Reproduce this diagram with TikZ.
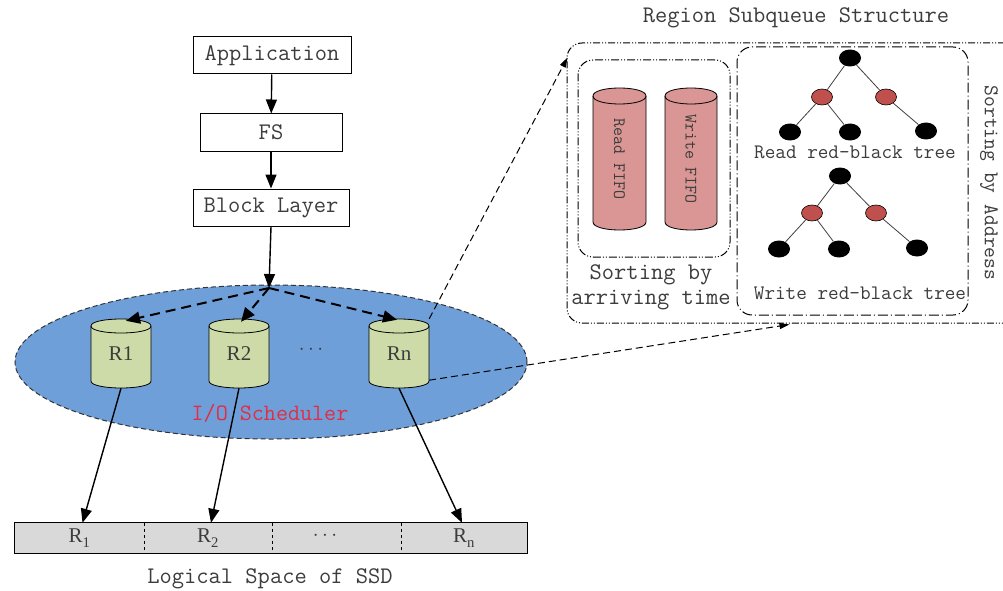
\documentclass[tikz,border=0pt]{standalone}
\usepackage{fontspec}
\setmainfont{Liberation Serif}
\newcommand\mono{\ttfamily}
\usetikzlibrary{shapes.geometric,arrows.meta,calc}
\definecolor{schedblue}{RGB}{111,159,216}
\definecolor{cylgreen}{RGB}{205,219,168}
\definecolor{fifopink}{RGB}{217,150,148}
\definecolor{rbredc}{RGB}{192,80,77}
\definecolor{bargray}{RGB}{217,217,217}
\definecolor{txtgray}{RGB}{60,60,60}
\definecolor{schedred}{RGB}{225,45,70}
% cylinder: name, xc, ytop, ybottom, half width, cap half height, fill, text, node options
\newcommand\cylnode[9]{%
  \draw[fill=#7, line width=0.8pt] (#2-#5,#3+#6) -- (#2-#5,#4-#6)
    .. controls (#2-#5,#4-#6+1.333*#6) and (#2+#5,#4-#6+1.333*#6) .. (#2+#5,#4-#6)
    -- (#2+#5,#3+#6)
    .. controls (#2+#5,#3+#6-1.333*#6) and (#2-#5,#3+#6-1.333*#6) .. cycle;
  \draw[line width=0.8pt] (#2-#5,#3+#6)
    .. controls (#2-#5,#3+#6+1.333*#6) and (#2+#5,#3+#6+1.333*#6) .. (#2+#5,#3+#6);
  \node[inner sep=0pt, minimum width={2*#5}, minimum height={#4-#3}, #9] (#1) at (#2,{(#3+#4)/2}) {#8};
}
\begin{document}
\begin{tikzpicture}[x=1pt,y=-1pt,
  every node/.style={text=txtgray},
  layerbox/.style={draw=black, line width=1pt, fill=white, inner sep=0pt, minimum height=37, font=\mono\fontsize{23.8}{26}\selectfont},
  flow/.style={-{Triangle[length=14pt,width=11pt]}, line width=1.4pt, draw=black},
  dflow/.style={-{Triangle[length=14pt,width=12pt]}, line width=2pt, dash pattern=on 10pt off 6pt, draw=black},
  zoomarrow/.style={-{Triangle[length=10pt,width=6pt]}, line width=1pt, dash pattern=on 7pt off 4pt, draw=black},
  blacknode/.style={ellipse, fill=black, minimum width=22, minimum height=17, inner sep=0pt},
  rednode/.style={ellipse, draw=black, line width=0.6pt, fill=rbredc, minimum width=21, minimum height=16, inner sep=0pt},
  treeedge/.style={line width=0.8pt, draw=black!75},
  monolbl/.style={font=\mono\fontsize{23.8}{26}\selectfont},
  smallmono/.style={font=\mono\fontsize{20.6}{22}\selectfont},
  cell/.style={fill=bargray, inner sep=0pt, minimum height=30, font=\fontsize{21}{22}\selectfont},
  roundbox/.style={draw=black, line width=1pt, rounded corners=15pt, inner sep=0pt},
]
\clip (0,0) rectangle (1003,591);
\fill[white] (0,0) rectangle (1003,591);

% layer boxes
\node[layerbox, minimum width=158] (app) at (272,55.5) {Application};
\node[layerbox, minimum width=142] (fs) at (271,132.5) {FS};
\node[layerbox, minimum width=156] (blk) at (271,207.5) {Block Layer};

% scheduler ellipse
\node[ellipse, draw=black!80, fill=schedblue, line width=1pt, dash pattern=on 5pt off 3pt,
      minimum width=512, minimum height=154, inner sep=0pt] (sched) at (271,362) {};
\node[text=schedred, font=\mono\fontsize{23.4}{25}\selectfont] (schedlbl) at (270,413) {I/O Scheduler};

% region cylinders
\cylnode{r1}{121}{319}{388}{30}{7}{cylgreen}{R1}{font=\fontsize{21}{22}\selectfont}
\cylnode{r2}{239}{319}{388}{30}{7}{cylgreen}{R2}{font=\fontsize{21}{22}\selectfont}
\cylnode{rn}{399}{319}{388}{30}{7}{cylgreen}{Rn}{font=\fontsize{21}{22}\selectfont}
\node[font=\fontsize{20}{22}\selectfont] (dots1) at (311,350) {$\cdots$};

% flow arrows
\coordinate (hub) at (269,288);
\draw[flow] (app) -- (fs);
\draw[flow] (fs) -- (blk);
\draw[flow] (blk.south) -- (hub);
\draw[dflow] (hub) -- ($(r1.north)+(5,2)$);
\draw[dflow] (hub) -- ($(r2.north)+(2,3)$);
\draw[dflow] (hub) -- ($(rn.north)+(-2,1)$);

% logical space bar
\node[cell, minimum width=129] (b1) at (79.5,538) {R\textsubscript{\raisebox{-2pt}{1}}};
\node[cell, minimum width=128] (b2) at (208,538) {R\textsubscript{\raisebox{-2pt}{2}}};
\node[cell, minimum width=129] (b3) at (336.5,538) {};
\node[cell, minimum width=126] (bn) at (464,538) {R\textsubscript{\raisebox{-2pt}{n}}};
\node[font=\fontsize{20}{22}\selectfont] (dots2) at (325,536) {$\cdots$};
\draw[line width=1pt] (b1.north west) rectangle (bn.south east);
\draw[line width=0.8pt, dashed] (b1.north east) -- (b1.south east);
\draw[line width=0.8pt, dashed] (b2.north east) -- (b2.south east);
\draw[line width=0.8pt, dashed] (b3.north east) -- (b3.south east);
\node[monolbl] (lsp) at (270,579) {Logical Space of SSD};

\draw[flow] (r1.south) -- ($(b1.north)+(3,0)$);
\draw[flow] (r2.south) -- ($(b2.north)+(3,0)$);
\draw[flow] (rn.south) -- ($(bn.north)+(-2,0)$);

% region subqueue structure
\node[monolbl] (title) at (796,18) {Region Subqueue Structure};
\node[roundbox, dash pattern=on 7pt off 2pt on 1pt off 2pt on 1pt off 2pt,
      minimum width=453, minimum height=280] (outer) at (793.5,183) {};
\node[roundbox, dash pattern=on 8pt off 2pt on 1pt off 2pt on 1pt off 2pt,
      minimum width=152, minimum height=197] (leftbox) at (654,158.5) {};
\node[roundbox, dash pattern=on 10pt off 3pt on 1pt off 3pt,
      minimum width=231, minimum height=268] (rightbox) at (852.5,181) {};

\cylnode{rf}{619.5}{88}{230}{26.5}{8}{fifopink}{Read FIFO}{rotate=-90, font=\mono\fontsize{17.4}{19}\selectfont}
\cylnode{wf}{691}{88}{230}{26}{8}{fifopink}{Write FIFO}{rotate=-90, font=\mono\fontsize{17.4}{19}\selectfont}
\node[align=center, font=\mono\fontsize{23.8}{25}\selectfont] (sortt) at (651,287) {Sorting by\\arriving time};

% read red-black tree
\node[blacknode] (t0) at (850,58) {};
\node[rednode] (t1) at (822,97) {};
\node[rednode] (t2) at (886,97) {};
\node[blacknode] (t3) at (790,132) {};
\node[blacknode] (t4) at (850,132) {};
\node[blacknode] (t5) at (926,131) {};
\draw[treeedge] (t0) -- (t1);
\draw[treeedge] (t0) -- (t2);
\draw[treeedge] (t1) -- (t3);
\draw[treeedge] (t1) -- (t4);
\draw[treeedge] (t2) -- (t5);
\node[smallmono] (rlbl) at (855,152) {Read red-black tree};

% write red-black tree
\node[blacknode] (w0) at (840,176) {};
\node[rednode] (w1) at (812,213) {};
\node[rednode] (w2) at (876,213) {};
\node[blacknode] (w3) at (779,249) {};
\node[blacknode] (w4) at (839,249) {};
\node[blacknode] (w5) at (917,248) {};
\draw[treeedge] (w0) -- (w1);
\draw[treeedge] (w0) -- (w2);
\draw[treeedge] (w1) -- (w3);
\draw[treeedge] (w1) -- (w4);
\draw[treeedge] (w2) -- (w5);
\node[smallmono] (wlbl) at (860,293) {Write red-black tree};

\node[font=\mono\fontsize{21}{23}\selectfont, rotate=-90] (addr) at (989,183) {Sorting by Address};

% zoom arrows
\draw[zoomarrow] (rn.north east) -- ($(outer.north west)+(1,15)$);
\draw[zoomarrow] ($(rn.south east)+(0,-8)$) -- ($(outer.south west)+(223,1)$);
\end{tikzpicture}
\end{document}
